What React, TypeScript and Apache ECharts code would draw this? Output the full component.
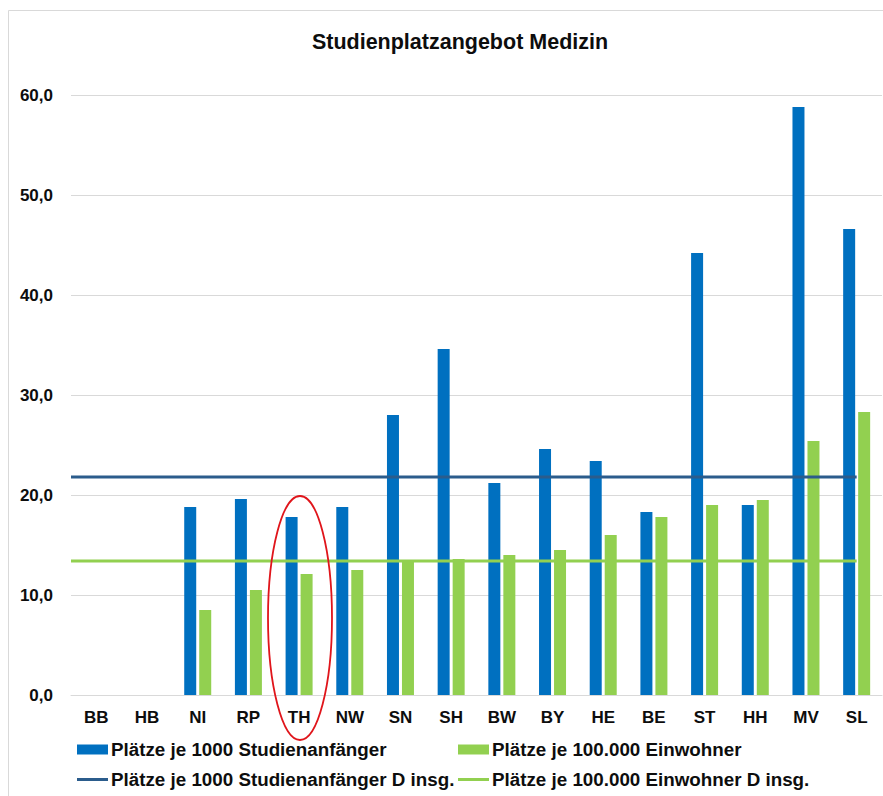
import React, { useEffect, useRef } from "react";
import * as echarts from "echarts";

const categories = ["BB", "HB", "NI", "RP", "TH", "NW", "SN", "SH", "BW", "BY", "HE", "BE", "ST", "HH", "MV", "SL"];
const perStudents: (number | null)[] = [null, null, 18.8, 19.6, 17.8, 18.8, 28.0, 34.6, 21.2, 24.6, 23.4, 18.3, 44.2, 19.0, 58.8, 46.6];
const perInhabitants: (number | null)[] = [null, null, 8.5, 10.5, 12.1, 12.5, 13.3, 13.6, 14.0, 14.5, 16.0, 17.8, 19.0, 19.5, 25.4, 28.3];
const avgStudents = 21.8;
const avgInhabitants = 13.4;
const yTicks = [0, 10, 20, 30, 40, 50, 60];

const nameBarA = "Plätze je 1000 Studienanfänger";
const nameBarB = "Plätze je 100.000 Einwohner";
const nameLineA = "Plätze je 1000 Studienanfänger D insg.";
const nameLineB = "Plätze je 100.000 Einwohner D insg.";

const FONT = "'Liberation Sans', Arial, Helvetica, sans-serif";
const BLUE = "#0070C0";
const GREEN = "#92D050";
const DARKBLUE = "#2B5C8C";

export default function App() {
  const ref = useRef<HTMLDivElement>(null);
  useEffect(() => {
    if (!ref.current) return;
    const chart = echarts.init(ref.current, null, { renderer: "svg" });
    const lastIdx = categories.length - 1;
    const legendText = { fontFamily: FONT, fontSize: 18.8, fontWeight: "bold", color: "#0d0d0d" };
    const legendBase = {
      orient: "horizontal",
      itemWidth: 31,
      itemGap: 0,
      padding: 0,
      textStyle: { ...legendText, padding: [0, 0, 0, -2] },
      selectedMode: false,
    };
    chart.setOption({
      animation: false,
      backgroundColor: "#ffffff",
      title: {
        text: "Studienplatzangebot Medizin",
        left: 455,
        textAlign: "center",
        top: 26,
        textStyle: { fontFamily: FONT, fontSize: 21.5, fontWeight: "bold", color: "#0d0d0d" },
      },
      grid: { left: 71, right: 1, top: 95, bottom: 101, containLabel: false },
      xAxis: [
        {
          type: "category",
          data: categories,
          boundaryGap: true,
          axisTick: { show: false },
          axisLine: { show: true, lineStyle: { color: "#d9d9d9", width: 1 } },
          axisLabel: { fontFamily: FONT, fontSize: 17, fontWeight: "bold", color: "#0d0d0d", margin: 14, interval: 0 },
        },
        {
          type: "value",
          min: -0.5,
          max: categories.length - 0.5,
          show: false,
          position: "bottom",
        },
      ],
      yAxis: {
        type: "value",
        min: yTicks[0],
        max: yTicks[yTicks.length - 1],
        interval: 10,
        axisLine: { show: false },
        axisTick: { show: false },
        splitLine: { lineStyle: { color: "#d9d9d9", width: 1 } },
        axisLabel: {
          fontFamily: FONT,
          fontSize: 17,
          fontWeight: "bold",
          color: "#0d0d0d",
          margin: 18,
          formatter: (v: number) => v.toFixed(1).replace(".", ","),
        },
      },
      legend: [
        { ...legendBase, data: [{ name: nameBarA, icon: "rect" }], left: 77, top: 740, itemHeight: 10 },
        { ...legendBase, data: [{ name: nameBarB, icon: "rect" }], left: 458, top: 740, itemHeight: 10 },
        { ...legendBase, data: [{ name: nameLineA, icon: "rect" }], left: 77, top: 770, itemHeight: 3 },
        { ...legendBase, data: [{ name: nameLineB, icon: "rect" }], left: 458, top: 770, itemHeight: 3 },
      ],
      series: [
        {
          name: nameBarA,
          type: "bar",
          data: perStudents,
          barWidth: 12,
          barGap: "25%",
          itemStyle: { color: BLUE },
          z: 2,
        },
        {
          name: nameBarB,
          type: "bar",
          data: perInhabitants,
          barWidth: 12,
          barGap: "25%",
          itemStyle: { color: GREEN },
          z: 2,
        },
        {
          name: nameLineA,
          type: "line",
          xAxisIndex: 1,
          data: [[-0.5, avgStudents], [lastIdx, avgStudents]],
          symbol: "none",
          lineStyle: { color: DARKBLUE, width: 3 },
          itemStyle: { color: DARKBLUE },
          z: 5,
        },
        {
          name: nameLineB,
          type: "line",
          xAxisIndex: 1,
          data: [[-0.5, avgInhabitants], [lastIdx, avgInhabitants]],
          symbol: "none",
          lineStyle: { color: GREEN, width: 3 },
          itemStyle: { color: GREEN },
          z: 5,
        },
      ],
      graphic: [
        {
          type: "rect",
          shape: { x: 8.5, y: 10.5, width: 900, height: 900 },
          style: { fill: "none", stroke: "#d9d9d9", lineWidth: 1 },
          silent: true,
          z: -1,
        },
        {
          type: "ellipse",
          shape: { cx: 300, cy: 618, rx: 32, ry: 122 },
          style: { fill: "none", stroke: "#e0151b", lineWidth: 1.8 },
          silent: true,
          z: 100,
        },
      ],
    });
    return () => chart.dispose();
  }, []);
  return (
    <div
      ref={ref}
      style={{ position: "fixed", left: 0, top: 0, width: 883, height: 796, background: "#fff" }}
    />
  );
}
